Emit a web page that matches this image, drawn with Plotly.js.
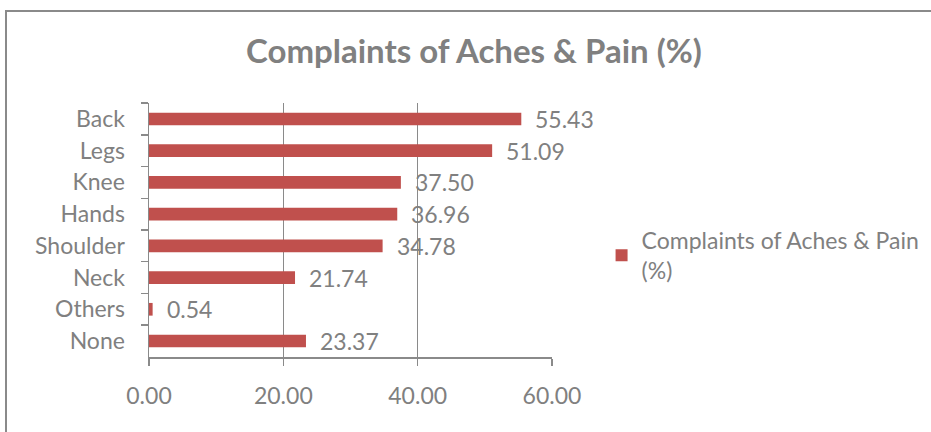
<!DOCTYPE html>
<html>
<head>
<meta charset="utf-8">
<script src="https://cdn.plot.ly/plotly-3.0.1.min.js"></script>
<style>
  html, body { margin: 0; padding: 0; background: #ffffff; }
  #frame { position: absolute; left: 5px; top: 10px; width: 1000px; height: 500px;
           border-left: 2px solid #8a8a8a; border-top: 2px solid #8a8a8a; }
  #chart { position: absolute; left: 0; top: 0; width: 931px; height: 432px; }
</style>
</head>
<body>
<div id="frame"></div>
<div id="chart"></div>
<script>
const categories = ["Back", "Legs", "Knee", "Hands", "Shoulder", "Neck", "Others", "None"];
const values = [55.43, 51.09, 37.50, 36.96, 34.78, 21.74, 0.54, 23.37];
const xTicks = [0, 20, 40, 60];
const seriesName = "Complaints of Aches & Pain (%)";

const grey = "#808080";
const lineGrey = "#8a8a8a";
const font = "Lato, 'Open Sans', sans-serif";

const trace = {
  type: "bar",
  orientation: "h",
  y: categories,
  x: values,
  name: "Complaints of Aches & Pain<br>(%)",
  marker: { color: "#c0504d" },
  width: 0.4,
  hoverinfo: "x+y"
};

const annotations = values.map((v, i) => ({
  x: v, y: categories[i], xref: "x", yref: "y",
  text: v.toFixed(2), showarrow: false, xanchor: "left", yanchor: "middle",
  xshift: 12, font: { family: font, size: 23, color: grey }
}));

const layout = {
  width: 931, height: 432,
  paper_bgcolor: "rgba(0,0,0,0)", plot_bgcolor: "rgba(0,0,0,0)",
  margin: { l: 149, r: 379, t: 103, b: 75, autoexpand: false },
  title: { text: "<b>" + seriesName + "</b>", x: 0.509, xref: "container", y: 0.882, yref: "container",
           xanchor: "center", yanchor: "middle",
           font: { family: font, size: 33, color: grey } },
  xaxis: {
    range: [0, 60], tickvals: xTicks, ticktext: xTicks.map(t => t.toFixed(2)),
    showgrid: true, gridcolor: lineGrey, gridwidth: 1.5,
    showline: true, linecolor: lineGrey, linewidth: 1.5,
    ticks: "outside", ticklen: 7, tickcolor: lineGrey, tickwidth: 1.5,
    tickfont: { family: font, size: 23, color: grey }, ticklabelstandoff: 11,
    zeroline: false, fixedrange: true, automargin: false
  },
  yaxis: {
    type: "category", categoryorder: "array", categoryarray: categories,
    autorange: "reversed",
    showline: true, linecolor: lineGrey, linewidth: 1.5,
    ticks: "outside", tickson: "boundaries", ticklen: 7, tickcolor: lineGrey, tickwidth: 1.5,
    tickfont: { family: font, size: 23, color: grey }, ticklabelstandoff: 18,
    showgrid: false, zeroline: false, fixedrange: true, automargin: false
  },
  showlegend: true,
  legend: {
    x: 1.123, y: 0.40, xanchor: "left", yanchor: "middle",
    font: { family: font, size: 23, color: grey },
    itemwidth: 30, bgcolor: "rgba(0,0,0,0)", borderwidth: 0
  },
  annotations: annotations,
  bargap: 0.6
};

Plotly.newPlot("chart", [trace], layout, { displayModeBar: false, staticPlot: true });
</script>
</body>
</html>
